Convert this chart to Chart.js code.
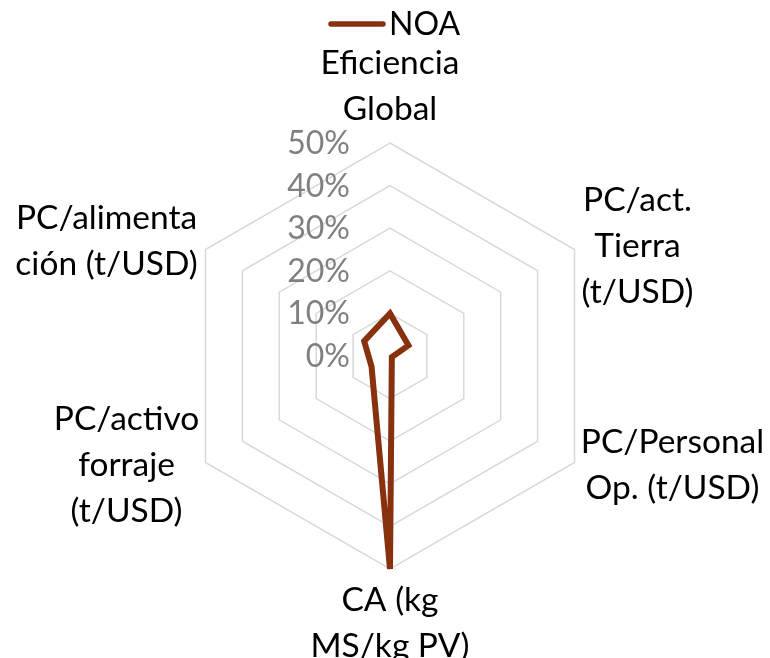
<!DOCTYPE html>
<html lang="es">
<head>
<meta charset="utf-8">
<script src="https://cdn.jsdelivr.net/npm/chart.js@4/dist/chart.umd.min.js"></script>
<style>
  html, body { margin: 0; background: #fff; }
  canvas { display: block; }
</style>
</head>
<body>
<canvas id="radarNoa" width="770" height="658"></canvas>
<script>
// ejes del radar (una línea por renglón)
const ejes = [
  ['Eficiencia', 'Global'],
  ['PC/act.', 'Tierra', '(t/USD)'],
  ['PC/Personal', 'Op. (t/USD)'],
  ['CA (kg', 'MS/kg PV)'],
  ['PC/activo', 'forraje', '(t/USD)'],
  ['PC/alimenta', 'ción (t/USD)'],
];

// valores NOA en %
const serieNombre = 'NOA';
const valoresNoa = [10, 5, 0.5, 50, 5, 7];

// escala
const ticksValores = [0, 10, 20, 30, 40, 50];
const ticksTexto = ['0%', '10%', '20%', '30%', '40%', '50%'];

const COLOR = '#88310E';
const FUENTE = 'Lato, "Open Sans", sans-serif';

// etiquetas de ticks a la izquierda del eje vertical
const ticksIzq = {
  id: 'ticksIzq',
  afterDraw(chart) {
    const r = chart.scales.r;
    const ctx = chart.ctx;
    ctx.save();
    ctx.font = `32px ${FUENTE}`;
    ctx.fillStyle = '#808080';
    ctx.textAlign = 'right';
    ctx.textBaseline = 'alphabetic';
    ticksValores.forEach((v, i) => {
      const y = r.yCenter - r.getDistanceFromCenterForValue(v);
      ctx.fillText(ticksTexto[i], r.xCenter - 40, y + 11);
    });
    ctx.restore();
  }
};

// etiquetas de los ejes, centradas en varias líneas
const desplaz = [[0, -69], [63, -39], [98, -10], [0, 42], [-79, -33], [-99, -21]];
const etiquetasEjes = {
  id: 'etiquetasEjes',
  afterDraw(chart) {
    const r = chart.scales.r;
    const ctx = chart.ctx;
    ctx.save();
    ctx.font = `33.5px ${FUENTE}`;
    ctx.fillStyle = '#000';
    ctx.textAlign = 'center';
    ctx.textBaseline = 'alphabetic';
    ejes.forEach((lineas, i) => {
      const p = r.getPointPosition(i, r.drawingArea);
      lineas.forEach((t, k) => {
        ctx.fillText(t, p.x + desplaz[i][0], p.y + desplaz[i][1] + k * 46);
      });
    });
    ctx.restore();
  }
};

// leyenda arriba: línea + nombre de la serie
const leyenda = {
  id: 'leyenda',
  afterDraw(chart) {
    const ctx = chart.ctx;
    ctx.save();
    ctx.strokeStyle = COLOR;
    ctx.lineWidth = 5.5;
    ctx.lineCap = 'round';
    ctx.beginPath();
    ctx.moveTo(331, 24);
    ctx.lineTo(383, 24);
    ctx.stroke();
    ctx.font = `32px ${FUENTE}`;
    ctx.fillStyle = '#000';
    ctx.textBaseline = 'alphabetic';
    ctx.fillText(serieNombre, 389, 35);
    ctx.restore();
  }
};

new Chart(document.getElementById('radarNoa'), {
  type: 'radar',
  data: {
    labels: ejes,
    datasets: [{
      label: serieNombre,
      data: valoresNoa,
      borderColor: COLOR,
      backgroundColor: COLOR,
      borderWidth: 6,
      borderJoinStyle: 'miter',
      fill: false,
      pointRadius: 0,
      tension: 0,
    }]
  },
  options: {
    responsive: false,
    animation: false,
    layout: { padding: { left: 177, right: 166, top: 142, bottom: 88 } },
    plugins: {
      legend: { display: false },
      tooltip: { enabled: false },
    },
    scales: {
      r: {
        min: 0,
        max: 50,
        ticks: { stepSize: 10, display: false },
        grid: { color: '#d9d9d9', lineWidth: 1.5 },
        angleLines: { display: false },
        pointLabels: { display: false },
      }
    }
  },
  plugins: [ticksIzq, etiquetasEjes, leyenda]
});
</script>
</body>
</html>
